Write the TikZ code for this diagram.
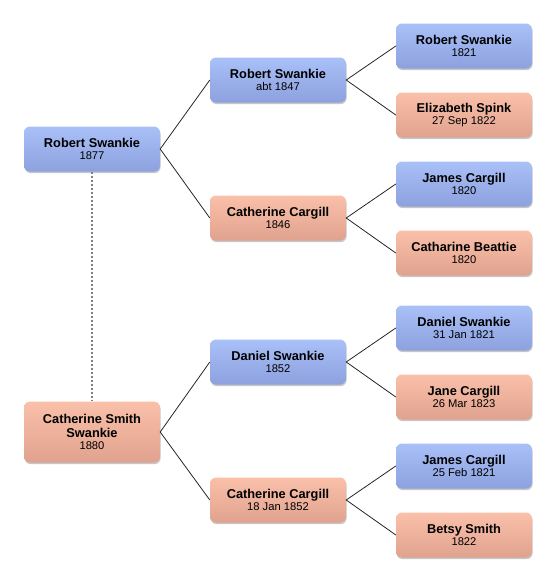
\documentclass[tikz,border=0pt]{standalone}
\usepackage{fontspec}
\setmainfont{Liberation Sans}
\usetikzlibrary{shadows}

\begin{document}
\begin{tikzpicture}[x=1pt,y=-1pt,
  person/.style={rounded corners=6pt, minimum width=136pt, minimum height=45pt,
    align=center, inner sep=2pt, draw=none,
    drop shadow={shadow xshift=0.6pt, shadow yshift=-1.6pt, opacity=0.22, fill=black}},
  male/.style={person, top color={rgb,255:red,170;green,192;blue,248}, bottom color={rgb,255:red,140;green,161;blue,222}},
  female/.style={person, top color={rgb,255:red,250;green,192;blue,170}, bottom color={rgb,255:red,224;green,162;blue,142}},
  link/.style={draw=black!85, line width=0.8pt}]
  \useasboundingbox (0,0) rectangle (556,582);
  \newcommand{\nm}[1]{{\fontsize{12.8}{14}\selectfont\bfseries #1}}
  \newcommand{\yr}[1]{{\fontsize{11.2}{13}\selectfont #1}}
  % first generation
  \node[male] (rs1877) at (92,149) {\nm{Robert Swankie}\\[0.5pt]\yr{1877}};
  \node[female, minimum height=61pt] (css1880) at (92,432)
    {\nm{Catherine Smith}\\[2pt]\nm{Swankie}\\[0.5pt]\yr{1880}};
  \draw[gray, line width=1.2pt, dash pattern=on 2pt off 2pt] (rs1877.south) -- (css1880.north);
  % parents
  \node[male] (rs1847) at (278,80) {\nm{Robert Swankie}\\[0.5pt]\yr{abt 1847}};
  \node[female] (cc1846) at (278,218) {\nm{Catherine Cargill}\\[0.5pt]\yr{1846}};
  \node[male] (ds1852) at (278,362) {\nm{Daniel Swankie}\\[0.5pt]\yr{1852}};
  \node[female] (cc1852) at (278,500) {\nm{Catherine Cargill}\\[0.5pt]\yr{18 Jan 1852}};
  % grandparents
  \node[male] (rs1821) at (464,46) {\nm{Robert Swankie}\\[0.5pt]\yr{1821}};
  \node[female] (es1822) at (464,115) {\nm{Elizabeth Spink}\\[0.5pt]\yr{27 Sep 1822}};
  \node[male] (jc1820) at (464,184) {\nm{James Cargill}\\[0.5pt]\yr{1820}};
  \node[female] (cb1820) at (464,253) {\nm{Catharine Beattie}\\[0.5pt]\yr{1820}};
  \node[male] (ds1821) at (464,328) {\nm{Daniel Swankie}\\[0.5pt]\yr{31 Jan 1821}};
  \node[female] (jc1823) at (464,397) {\nm{Jane Cargill}\\[0.5pt]\yr{26 Mar 1823}};
  \node[male] (jc1821) at (464,466) {\nm{James Cargill}\\[0.5pt]\yr{25 Feb 1821}};
  \node[female] (bs1822) at (464,535) {\nm{Betsy Smith}\\[0.5pt]\yr{1822}};
  % connectors
  \draw[link] (rs1847.west) -- (rs1877.east) -- (cc1846.west);
  \draw[link] (ds1852.west) -- (css1880.east) -- (cc1852.west);
  \draw[link] (rs1821.west) -- (rs1847.east) -- (es1822.west);
  \draw[link] (jc1820.west) -- (cc1846.east) -- (cb1820.west);
  \draw[link] (ds1821.west) -- (ds1852.east) -- (jc1823.west);
  \draw[link] (jc1821.west) -- (cc1852.east) -- (bs1822.west);
\end{tikzpicture}
\end{document}
